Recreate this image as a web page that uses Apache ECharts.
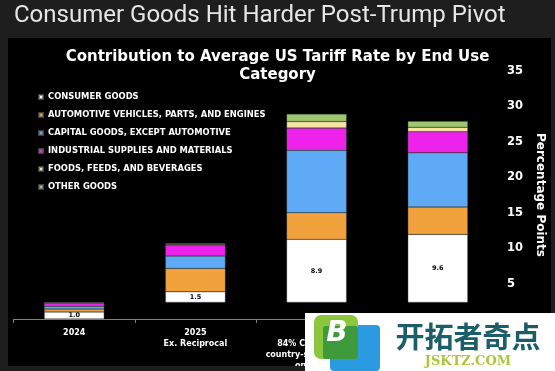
<!DOCTYPE html>
<html>
<head>
<meta charset="utf-8">
<script src="https://cdn.jsdelivr.net/npm/echarts@6/dist/echarts.min.js"></script>
<style>
html,body{margin:0;padding:0;background:#000;}
#chart{width:555px;height:371px;}
</style>
</head>
<body>
<div id="chart"></div>
<script>
// ---- data ----
const categories = [
  '2024',
  '2025\nEx. Reciprocal',
  '2025\n84% China + 10%\ncountry-specific tariffs\non others',
  '2025\n30% China +\n10% on others'
];
const baseline = [0, 2.34, 2.34, 2.34];
const consumerGoods = [1.0, 1.5, 8.9, 9.6];
const automotive = [0.4, 3.3, 3.76, 3.85];
const capitalGoods = [0.4, 1.74, 8.8, 7.66];
const industrialSupplies = [0.46, 1.55, 3.15, 2.96];
const foodsFeeds = [0.04, 0.12, 0.92, 0.66];
const otherGoods = [0.04, 0.12, 1.06, 0.85];
const seriesNames = [
  'CONSUMER GOODS',
  'AUTOMOTIVE VEHICLES, PARTS, AND ENGINES',
  'CAPITAL GOODS, EXCEPT AUTOMOTIVE',
  'INDUSTRIAL SUPPLIES AND MATERIALS',
  'FOODS, FEEDS, AND BEVERAGES',
  'OTHER GOODS'
];
const seriesValues = [consumerGoods, automotive, capitalGoods, industrialSupplies, foodsFeeds, otherGoods];
const seriesColors = ['#ffffff', '#f2a23c', '#5eaaf6', '#ee22ea', '#f8e3a0', '#9cc96e'];
const yTicks = {min: 0, max: 35, interval: 5};

const FONT = 'DejaVu Sans';
const chart = echarts.init(document.getElementById('chart'));

const series = [{
  name: 'base', type: 'bar', stack: 'total', data: baseline, barWidth: 60,
  itemStyle: {color: 'rgba(0,0,0,0)'}, silent: true
}];
seriesValues.forEach((vals, i) => {
  const s = {
    name: seriesNames[i], type: 'bar', stack: 'total', data: vals, barWidth: 60,
    itemStyle: {color: seriesColors[i], borderColor: 'rgba(90,90,90,0.7)', borderWidth: 0.5}
  };
  if (i === 0) {
    s.label = {show: true, position: 'inside', color: '#000', fontSize: 6.5, fontWeight: 'bold',
      fontFamily: FONT, formatter: p => p.value.toFixed(1)};
  }
  series.push(s);
});

const option = {
  backgroundColor: '#000',
  animation: false,
  title: {
    text: 'Contribution to Average US Tariff Rate by End Use\nCategory',
    left: 'center', top: 43,
    textStyle: {color: '#fff', fontSize: 15, fontWeight: 'bold', fontFamily: FONT, lineHeight: 18, align: 'center'}
  },
  legend: {
    data: seriesNames,
    orient: 'vertical', left: 38, top: 93, padding: 0,
    icon: 'rect', itemWidth: 4, itemHeight: 4, itemGap: 10,
    textStyle: {color: '#fff', fontSize: 8.4, fontWeight: 'bold', fontFamily: FONT}
  },
  grid: {left: 13.6, right: 56.6, top: 71, bottom: 51.7},
  xAxis: {
    type: 'category', data: categories,
    axisLine: {lineStyle: {color: '#808080'}},
    axisTick: {show: true, length: 4, lineStyle: {color: '#808080'}},
    axisLabel: {color: '#fff', fontSize: 8, fontWeight: 'bold', fontFamily: FONT, lineHeight: 11, margin: 8, interval: 0}
  },
  yAxis: {
    type: 'value', position: 'right', min: yTicks.min, max: yTicks.max, interval: yTicks.interval,
    splitLine: {show: false}, axisLine: {show: false}, axisTick: {show: false},
    axisLabel: {color: '#fff', fontSize: 11.5, fontWeight: 'bold', fontFamily: FONT, margin: 8.5},
    name: 'Percentage Points', nameLocation: 'middle', nameRotate: -90, nameGap: 28,
    nameTextStyle: {color: '#fff', fontSize: 12, fontWeight: 'bold', fontFamily: FONT}
  },
  series: series,
  graphic: [
    {type: 'rect', shape: {x: 0, y: 0, width: 555, height: 38}, style: {fill: '#1e1e1e'}, z: 50},
    {type: 'rect', shape: {x: 0, y: 0, width: 8, height: 371}, style: {fill: '#1e1e1e'}, z: 50},
    {type: 'rect', shape: {x: 551, y: 0, width: 4, height: 371}, style: {fill: '#1e1e1e'}, z: 50},
    {type: 'rect', shape: {x: 0, y: 366, width: 555, height: 5}, style: {fill: '#1e1e1e'}, z: 50},
    {type: 'text', x: 14, y: 16, z: 51,
      style: {text: 'Consumer Goods Hit Harder Post-Trump Pivot', fill: '#e6e6e6',
        font: '24px Roboto', textVerticalAlign: 'middle'}},
    {type: 'rect', shape: {x: 305, y: 313, width: 250, height: 58}, style: {fill: '#ffffff'}, z: 100},
    {type: 'rect', shape: {x: 330, y: 325, width: 50, height: 46, r: 4}, style: {fill: '#2a9be0'}, z: 101},
    {type: 'rect', shape: {x: 314, y: 315, width: 44, height: 44, r: 7}, style: {fill: '#8cc63f'}, z: 102},
    {type: 'rect', shape: {x: 323, y: 326, width: 35, height: 33, r: 3}, style: {fill: '#3f9a3c'}, z: 103},
    {type: 'text', x: 337, y: 334, z: 104,
      style: {text: 'B', fill: '#fff', font: 'italic bold 28px "DejaVu Sans"', textAlign: 'center', textVerticalAlign: 'middle'}},
    {type: 'text', x: 468, y: 337, z: 104,
      style: {text: '开拓者奇点', fill: '#1b5e69', font: 'bold 29px "Noto Sans CJK SC"', textAlign: 'center', textVerticalAlign: 'middle'}},
    {type: 'text', x: 468, y: 362, z: 104,
      style: {text: 'JSKTZ.COM', fill: '#acc63a', font: 'bold 13px "DejaVu Serif"', textAlign: 'center', textVerticalAlign: 'middle'}}
  ]
};
chart.setOption(option);
</script>
</body>
</html>
